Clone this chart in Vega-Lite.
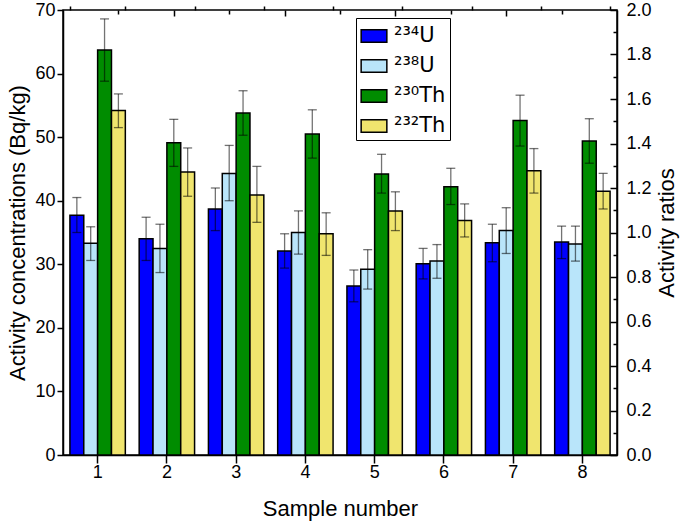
{
  "$schema": "https://vega.github.io/schema/vega-lite/v6.json",
  "width": 554,
  "height": 445,
  "autosize": "none",
  "padding": {"left": 63, "top": 10, "right": 68, "bottom": 71},
  "config": {
    "font": "Liberation Sans",
    "view": {"stroke": "black", "strokeWidth": 1.5},
    "legend": {"strokeWidth": 1},
    "axis": {"domainColor": "black", "domainWidth": 1.5, "tickColor": "black", "tickWidth": 1.5, "grid": false, "labelColor": "black", "titleColor": "black", "labelFont": "Liberation Sans", "titleFont": "Liberation Sans", "titleFontWeight": "normal"}
  },
  "data": {"values": [
    {"sample": "1", "nuclide": "²³⁴U", "value": 37.7, "lo": 35.0, "hi": 40.5},
    {"sample": "1", "nuclide": "²³⁸U", "value": 33.3, "lo": 30.6, "hi": 35.9},
    {"sample": "1", "nuclide": "²³⁰Th", "value": 63.7, "lo": 58.8, "hi": 68.6},
    {"sample": "1", "nuclide": "²³²Th", "value": 54.2, "lo": 51.5, "hi": 56.8},
    {"sample": "2", "nuclide": "²³⁴U", "value": 34.0, "lo": 30.6, "hi": 37.4},
    {"sample": "2", "nuclide": "²³⁸U", "value": 32.5, "lo": 28.7, "hi": 36.3},
    {"sample": "2", "nuclide": "²³⁰Th", "value": 49.1, "lo": 45.4, "hi": 52.8},
    {"sample": "2", "nuclide": "²³²Th", "value": 44.5, "lo": 40.7, "hi": 48.3},
    {"sample": "3", "nuclide": "²³⁴U", "value": 38.7, "lo": 35.3, "hi": 42.0},
    {"sample": "3", "nuclide": "²³⁸U", "value": 44.3, "lo": 40.0, "hi": 48.7},
    {"sample": "3", "nuclide": "²³⁰Th", "value": 53.8, "lo": 50.3, "hi": 57.3},
    {"sample": "3", "nuclide": "²³²Th", "value": 40.9, "lo": 36.6, "hi": 45.4},
    {"sample": "4", "nuclide": "²³⁴U", "value": 32.1, "lo": 29.4, "hi": 34.8},
    {"sample": "4", "nuclide": "²³⁸U", "value": 35.0, "lo": 31.6, "hi": 38.4},
    {"sample": "4", "nuclide": "²³⁰Th", "value": 50.5, "lo": 46.7, "hi": 54.3},
    {"sample": "4", "nuclide": "²³²Th", "value": 34.8, "lo": 31.4, "hi": 38.1},
    {"sample": "5", "nuclide": "²³⁴U", "value": 26.6, "lo": 24.1, "hi": 29.1},
    {"sample": "5", "nuclide": "²³⁸U", "value": 29.2, "lo": 26.1, "hi": 32.3},
    {"sample": "5", "nuclide": "²³⁰Th", "value": 44.2, "lo": 41.2, "hi": 47.3},
    {"sample": "5", "nuclide": "²³²Th", "value": 38.4, "lo": 35.3, "hi": 41.4},
    {"sample": "6", "nuclide": "²³⁴U", "value": 30.1, "lo": 27.7, "hi": 32.5},
    {"sample": "6", "nuclide": "²³⁸U", "value": 30.5, "lo": 27.8, "hi": 33.1},
    {"sample": "6", "nuclide": "²³⁰Th", "value": 42.2, "lo": 39.4, "hi": 45.1},
    {"sample": "6", "nuclide": "²³²Th", "value": 36.9, "lo": 34.3, "hi": 39.5},
    {"sample": "7", "nuclide": "²³⁴U", "value": 33.4, "lo": 30.4, "hi": 36.3},
    {"sample": "7", "nuclide": "²³⁸U", "value": 35.3, "lo": 31.7, "hi": 38.9},
    {"sample": "7", "nuclide": "²³⁰Th", "value": 52.6, "lo": 48.6, "hi": 56.6},
    {"sample": "7", "nuclide": "²³²Th", "value": 44.7, "lo": 41.2, "hi": 48.2},
    {"sample": "8", "nuclide": "²³⁴U", "value": 33.5, "lo": 30.9, "hi": 36.0},
    {"sample": "8", "nuclide": "²³⁸U", "value": 33.2, "lo": 30.5, "hi": 36.0},
    {"sample": "8", "nuclide": "²³⁰Th", "value": 49.4, "lo": 45.9, "hi": 52.9},
    {"sample": "8", "nuclide": "²³²Th", "value": 41.5, "lo": 38.7, "hi": 44.3}
  ]},
  "layer": [
    {
      "layer": [
        {
          "mark": {"type": "bar", "stroke": "black", "strokeWidth": 1.5, "opacity": 1},
          "encoding": {
            "x": {"field": "sample", "type": "nominal", "title": "Sample number",
              "scale": {"paddingInner": 0.2, "paddingOuter": 0.1},
              "axis": {"labelAngle": 0, "labelFontSize": 18, "titleFontSize": 22, "tickSize": 8, "labelPadding": 0, "titlePadding": 17, "domain": true}},
            "xOffset": {"field": "nuclide", "type": "nominal", "sort": ["²³⁴U", "²³⁸U", "²³⁰Th", "²³²Th"]},
            "y": {"field": "value", "type": "quantitative", "title": "Activity concentrations (Bq/kg)",
              "scale": {"domain": [0, 70], "nice": false},
              "axis": {"values": [0, 5, 10, 15, 20, 25, 30, 35, 40, 45, 50, 55, 60, 65, 70],
                "labelExpr": "datum.value % 10 === 0 ? datum.label : ''",
                "tickSize": {"condition": {"test": "datum.value % 10 === 0", "value": 6}, "value": 4},
                "labelFontSize": 18, "titleFontSize": 22, "labelPadding": 2, "titlePadding": 5}},
            "color": {"field": "nuclide", "type": "nominal",
              "scale": {"domain": ["²³⁴U", "²³⁸U", "²³⁰Th", "²³²Th"], "range": ["#0000FF", "#B9E5FA", "#008C00", "#F0E56E"]},
              "legend": {"title": null, "orient": "none", "legendX": 293, "legendY": 8,
                "symbolType": "M-1,-0.49H1V0.49H-1Z", "symbolSize": 660, "symbolStrokeColor": "black", "symbolStrokeWidth": 1.5, "symbolOpacity": 1,
                "labelFontSize": 21, "labelFont": "DejaVu Sans", "labelColor": "black", "labelOffset": 6, "rowPadding": 6,
                "strokeColor": "black", "padding": 4, "fillColor": "white"}}
          }
        },
        {
          "mark": {"type": "rule", "color": "black", "opacity": 0.55, "strokeWidth": 1.3},
          "encoding": {
            "x": {"field": "sample", "type": "nominal",
              "scale": {"paddingInner": 0.2, "paddingOuter": 0.1},
              "axis": {"tickBand": "extent", "labels": false, "domain": false, "tickSize": 4, "title": null}},
            "xOffset": {"field": "nuclide", "type": "nominal", "sort": ["²³⁴U", "²³⁸U", "²³⁰Th", "²³²Th"]},
            "y": {"field": "lo", "type": "quantitative", "title": "Activity concentrations (Bq/kg)"},
            "y2": {"field": "hi"}
          }
        },
        {
          "mark": {"type": "tick", "color": "black", "opacity": 0.55, "thickness": 1.3, "size": 9},
          "encoding": {
            "x": {"field": "sample", "type": "nominal", "axis": null},
            "xOffset": {"field": "nuclide", "type": "nominal", "sort": ["²³⁴U", "²³⁸U", "²³⁰Th", "²³²Th"]},
            "y": {"field": "hi", "type": "quantitative", "title": "Activity concentrations (Bq/kg)"}
          }
        },
        {
          "mark": {"type": "tick", "color": "black", "opacity": 0.55, "thickness": 1.3, "size": 9},
          "encoding": {
            "x": {"field": "sample", "type": "nominal", "axis": null},
            "xOffset": {"field": "nuclide", "type": "nominal", "sort": ["²³⁴U", "²³⁸U", "²³⁰Th", "²³²Th"]},
            "y": {"field": "lo", "type": "quantitative", "title": "Activity concentrations (Bq/kg)"}
          }
        }
      ],
      "resolve": {"axis": {"x": "independent"}}
    },
    {
      "mark": {"type": "rule", "opacity": 0},
      "encoding": {
        "y": {"datum": 0, "type": "quantitative",
          "scale": {"domain": [0, 2], "nice": false},
          "axis": {"orient": "right", "title": "Activity ratios", "values": [0, 0.1, 0.2, 0.3, 0.4, 0.5, 0.6, 0.7, 0.8, 0.9, 1.0, 1.1, 1.2, 1.3, 1.4, 1.5, 1.6, 1.7, 1.8, 1.9, 2.0],
            "labelExpr": "round(datum.value * 10) % 2 === 0 ? format(datum.value, '.1f') : ''",
            "tickSize": {"condition": {"test": "round(datum.value * 10) % 2 === 0", "value": -7}, "value": -4},
            "labelFontSize": 18, "titleFontSize": 22, "labelPadding": 16, "titleAngle": -90, "titlePadding": 27}}
      }
    },
    {
      "mark": {"type": "rule", "opacity": 0},
      "encoding": {
        "x": {"datum": 0, "type": "quantitative",
          "scale": {"domain": [0, 10], "nice": false},
          "axis": {"orient": "top", "values": [1, 2, 3, 4, 5, 6, 7, 8, 9], "labels": false, "domain": false, "title": null,
            "tickSize": {"condition": {"test": "datum.value % 2 === 0", "value": -6}, "value": -4}}}
      }
    }
  ],
  "resolve": {"scale": {"x": "independent", "y": "independent"}, "axis": {"x": "independent", "y": "independent"}}
}
